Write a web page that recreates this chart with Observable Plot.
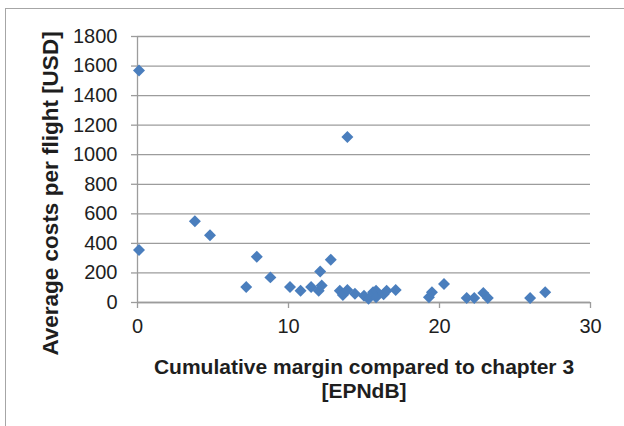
<!DOCTYPE html>
<html>
<head>
<meta charset="utf-8">
<script src="https://cdn.jsdelivr.net/npm/d3@7"></script>
<script src="https://cdn.jsdelivr.net/npm/@observablehq/plot@0.6"></script>
<style>
  html, body { margin: 0; padding: 0; background: #ffffff; }
  #wrap { position: relative; width: 624px; height: 426px; overflow: hidden; }
  #border { position: absolute; left: 5px; top: 8px; width: 700px; height: 500px;
            border-left: 1.5px solid #a6a6a6; border-top: 1.5px solid #a6a6a6; }
  #chart { position: absolute; left: 0; top: 0; }
</style>
</head>
<body>
<div id="wrap">
  <div id="border"></div>
  <div id="chart"></div>
</div>
<script>
// Noise margin (EPNdB) vs. average noise charge per flight (USD)
const marginEPNdB = [0.1, 0.1, 3.8, 4.8, 7.2, 7.9, 8.8, 10.1, 10.8, 11.5, 12.0, 12.1, 12.2, 12.8,
  13.4, 13.6, 13.9, 13.9, 14.4, 15.0, 15.3, 15.6, 15.8, 15.8, 16.3, 16.5, 17.1,
  19.3, 19.5, 20.3, 21.8, 22.3, 22.9, 23.2, 26.0, 27.0];
const costUSD = [1570, 355, 550, 455, 105, 310, 170, 105, 80, 105, 80, 210, 115, 290,
  80, 50, 85, 1120, 60, 45, 25, 70, 80, 35, 55, 80, 85,
  35, 70, 125, 30, 30, 65, 30, 30, 70];

const xTicks = [0, 10, 20, 30];
const yTicks = [0, 200, 400, 600, 800, 1000, 1200, 1400, 1600, 1800];
const xTitle = "Cumulative margin compared to chapter 3\n[EPNdB]";
const yTitle = "Average costs per flight [USD]";

const points = marginEPNdB.map((x, i) => ({x, y: costUSD[i]}));

const axisGrey = "#9c9c9c";
const textColor = "#1e1e1e";

const chart = Plot.plot({
  width: 624,
  height: 426,
  marginLeft: 137,
  marginRight: 34,
  marginTop: 36,
  marginBottom: 124,
  style: {fontFamily: "'Liberation Sans', Arial, sans-serif", background: "transparent", overflow: "visible"},
  x: {domain: [0, 30]},
  y: {domain: [0, 1800]},
  marks: [
    Plot.gridY(yTicks, {stroke: axisGrey, strokeOpacity: 1, strokeWidth: 1.3}),
    Plot.ruleX([0], {stroke: axisGrey, strokeWidth: 1.3}),
    Plot.ruleY([0], {stroke: axisGrey, strokeWidth: 1.3}),
    Plot.axisY(yTicks, {tickSize: 6, tickPadding: 14, fontSize: 20, stroke: axisGrey, strokeWidth: 1.3, fill: textColor, tickFormat: d => String(d), label: null}),
    Plot.axisX(xTicks, {tickSize: 6, tickPadding: 10, fontSize: 20, stroke: axisGrey, strokeWidth: 1.3, fill: textColor, tickFormat: d => String(d), label: null}),
    Plot.dot(points, {x: "x", y: "y", symbol: "diamond2", r: 5.4, fill: "#4a7ebd", stroke: null}),
    Plot.text([xTitle], {frameAnchor: "bottom", lineAnchor: "middle", dy: 76, fontSize: 21, fontWeight: "bold", fill: textColor, lineHeight: 1.15, textAnchor: "middle"}),
    Plot.text([yTitle], {frameAnchor: "left", dx: -87, dy: 24, rotate: -90, fontSize: 22.5, fontWeight: "bold", fill: textColor, textAnchor: "middle"})
  ]
});

document.getElementById("chart").appendChild(chart);
</script>
</body>
</html>
